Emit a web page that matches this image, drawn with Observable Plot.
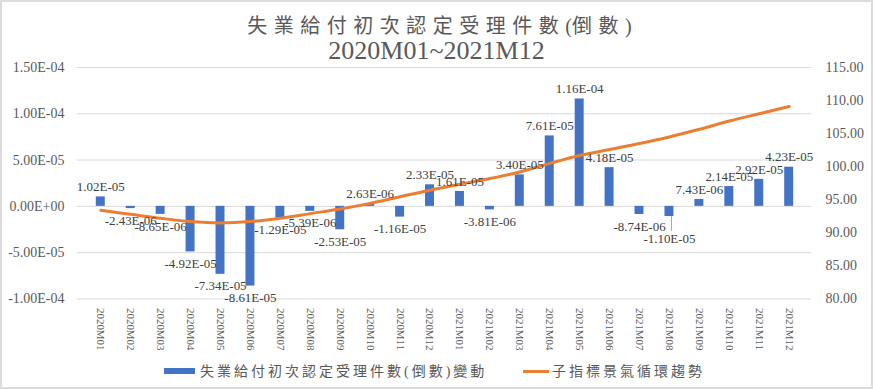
<!DOCTYPE html>
<html>
<head>
<meta charset="utf-8">
<script src="https://cdn.jsdelivr.net/npm/d3@7"></script>
<script src="https://cdn.jsdelivr.net/npm/@observablehq/plot@0.6"></script>
<style>
  html, body { margin: 0; padding: 0; background: #fff; }
  #frame { position: relative; width: 873px; height: 389px; box-sizing: border-box; border: 2px solid #dcdcdc; overflow: hidden; background: #fff; }
  #title { position: absolute; left: 0; top: 0; width: 869px; height: 60px; text-align: center; color: #595959; }
  #t1 { position: absolute; left: 0; width: 100%; top: 12px; font-family: "Liberation Serif", "Noto Sans CJK TC", serif; font-size: 20px; letter-spacing: 6.5px; text-indent: 6px; line-height: 24px; }
  #t1 .p { letter-spacing: 0; }
  #t2 { position: absolute; left: 0; width: 100%; top: 34px; font-family: "Liberation Serif", serif; font-size: 26px; line-height: 30px; }
  #chart { position: absolute; left: -2px; top: 60px; }
  #chart svg { overflow: visible; }
  .leg { position: absolute; font-family: "Liberation Serif", "Noto Sans CJK TC", serif; font-size: 14px; letter-spacing: 3px; color: #595959; line-height: 16px; white-space: nowrap; }
  .sw { position: absolute; }
</style>
</head>
<body>
<div id="frame">
  <div id="title"><div id="t1"></div><div id="t2"></div></div>
  <div id="chart"></div>
  <div id="legend"></div>
</div>
<script>
const titleLines = ["失業給付初次認定受理件數(倒數)", "2020M01~2021M12"];
const seriesNames = ["失業給付初次認定受理件數(倒數)變動", "子指標景氣循環趨勢"];
const months = ["2020M01","2020M02","2020M03","2020M04","2020M05","2020M06","2020M07","2020M08","2020M09","2020M10","2020M11","2020M12",
                "2021M01","2021M02","2021M03","2021M04","2021M05","2021M06","2021M07","2021M08","2021M09","2021M10","2021M11","2021M12"];
const changeValues = [1.02e-5, -2.43e-6, -8.65e-6, -4.92e-5, -7.34e-5, -8.61e-5, -1.29e-5, -5.39e-6, -2.53e-5, 2.63e-6, -1.16e-5, 2.33e-5,
                      1.61e-5, -3.81e-6, 3.40e-5, 7.61e-5, 1.16e-4, 4.18e-5, -8.74e-6, -1.10e-5, 7.43e-6, 2.14e-5, 2.92e-5, 4.23e-5];
const trendValues = [93.4, 92.8, 92.2, 91.7, 91.5, 91.7, 92.2, 92.9, 93.6, 94.45, 95.45, 96.45,
                     97.35, 98.2, 99.2, 100.5, 101.7, 102.6, 103.5, 104.5, 105.65, 106.9, 108.0, 109.1];
const leftTicks = [-1e-4, -5e-5, 0, 5e-5, 1e-4, 1.5e-4];
const rightTicks = [80, 85, 90, 95, 100, 105, 110, 115];
const colors = ["#4472C4", "#ED7D31"];
// labels that the reference pulls further down (with a leader line) to avoid overlapping a neighbour
const pulledLabels = ["2021M08"];

const leftDomain = [-1e-4, 1.5e-4];
const rightDomain = [80, 115];
const toLeft = v => leftDomain[0] + (v - rightDomain[0]) / (rightDomain[1] - rightDomain[0]) * (leftDomain[1] - leftDomain[0]);
const fromLeft = v => rightDomain[0] + (v - leftDomain[0]) / (leftDomain[1] - leftDomain[0]) * (rightDomain[1] - rightDomain[0]);

function sci(v) {
  if (Math.abs(v) < 1e-15) return "0.00E+00";
  let e = Math.floor(Math.log10(Math.abs(v)));
  let m = v / Math.pow(10, e);
  if (Math.abs(+m.toFixed(2)) >= 10) { m /= 10; e++; }
  return m.toFixed(2) + "E" + (e < 0 ? "-" : "+") + String(Math.abs(e)).padStart(2, "0");
}

document.getElementById("t1").innerHTML = titleLines[0]
  .replace("(", '<span class="p">(</span>')
  .replace(")", '<span class="p">)</span>');
document.getElementById("t2").textContent = titleLines[1];

const data = months.map((m, i) => ({month: m, change: changeValues[i], trend: trendValues[i]}));
const pos = data.filter(d => d.change >= 0);
const neg = data.filter(d => d.change < 0 && !pulledLabels.includes(d.month));
const pulled = data.filter(d => pulledLabels.includes(d.month));

const chart = Plot.plot({
  width: 873,
  height: 297,
  marginTop: 5,
  marginBottom: 60,
  marginLeft: 77,
  marginRight: 60,
  style: {fontFamily: "'Liberation Serif', serif", color: "#595959", background: "transparent", overflow: "visible"},
  x: {domain: months, paddingInner: 0.7, paddingOuter: 0.35, axis: null},
  y: {domain: leftDomain, axis: null},
  marks: [
    Plot.gridY(leftTicks, {stroke: "#d9d9d9", strokeOpacity: 1, strokeWidth: 1}),
    Plot.barY(data, {x: "month", y: "change", fill: colors[0]}),
    Plot.line(data, {x: "month", y: d => toLeft(d.trend), stroke: colors[1], strokeWidth: 3, curve: "catmull-rom"}),
    Plot.text(pos, {x: "month", y: "change", text: d => sci(d.change), dy: -10, fontSize: 13, fill: "#404040"}),
    Plot.text(neg, {x: "month", y: "change", text: d => sci(d.change), dy: 12, fontSize: 13, fill: "#404040"}),
    Plot.ruleX(pulled, {x: "month", y1: "change", y2: d => d.change - 1.6e-5, stroke: "#a6a6a6", strokeWidth: 1, dx: 2}),
    Plot.text(pulled, {x: "month", y: "change", text: d => sci(d.change), dy: 22, fontSize: 13, fill: "#404040"}),
    Plot.axisY(leftTicks, {anchor: "left", tickSize: 0, tickPadding: 13, tickFormat: sci, fontSize: 14, label: null}),
    Plot.axisY(rightTicks.map(toLeft), {anchor: "right", tickSize: 0, tickPadding: 14, tickFormat: d => fromLeft(d).toFixed(2), fontSize: 14, label: null}),
    Plot.axisX({tickSize: 0, tickRotate: 90, tickPadding: 9, fontSize: 11, label: null})
  ]
});
document.getElementById("chart").appendChild(chart);

const legend = document.getElementById("legend");
legend.innerHTML = `
  <div class="sw" style="left:162px; top:366px; width:31px; height:6px; background:${colors[0]}"></div>
  <div class="leg" style="left:198px; top:362px;">${seriesNames[0]}</div>
  <div class="sw" style="left:521px; top:368px; width:26px; height:3px; background:${colors[1]}"></div>
  <div class="leg" style="left:550px; top:362px;">${seriesNames[1]}</div>
`;
</script>
</body>
</html>
